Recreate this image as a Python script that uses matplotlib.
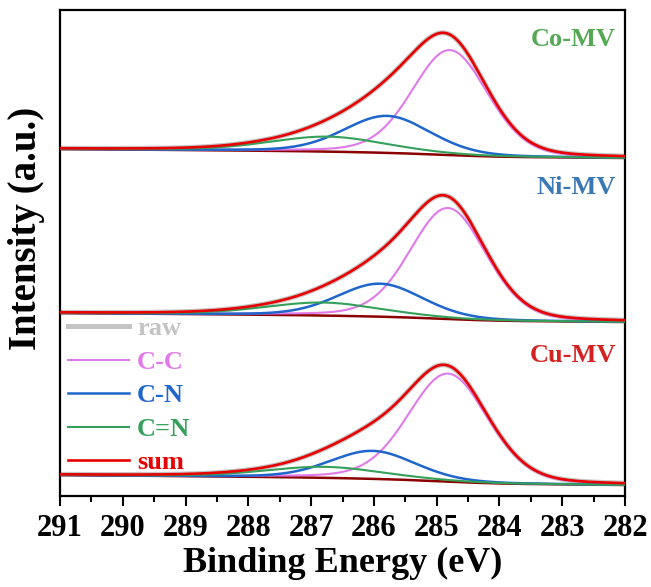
import numpy as np
import matplotlib.pyplot as plt
from matplotlib.ticker import MultipleLocator

# peak fit parameters: centre (eV), FWHM (eV), height (a.u.)
samples = ["Co-MV", "Ni-MV", "Cu-MV"]
sample_colors = ["#55a955", "#3a78b5", "#d42222"]

cc_center = [284.79, 284.82, 284.82]
cc_fwhm = [1.42, 1.43, 1.50]
cc_height = [105, 111, 108]

cn_center = [285.79, 285.90, 286.02]
cn_fwhm = [1.62, 1.60, 1.60]
cn_height = [37, 33, 28]

cdn_center = [286.73, 286.81, 286.78]
cdn_fwhm = [2.2, 2.2, 2.2]
cdn_height = [15, 13, 11]

# background level at the low-BE end and the step up to the high-BE end
bg_low = [338, 174, 11]
bg_step = [9, 9, 10]

x_ticks = [291, 290, 289, 288, 287, 286, 285, 284, 283, 282]

c_raw = "#c4c4c4"
c_cc = "#e07ae8"
c_cn = "#1f66cc"
c_cdn = "#35a05a"
c_sum = "#e80000"
c_bg = "#8b0000"


def pvoigt(e, c, w, h, lfrac):
    g = np.exp(-4 * np.log(2) * (e - c) ** 2 / w ** 2)
    l = 1 / (1 + 4 * (e - c) ** 2 / w ** 2)
    return h * ((1 - lfrac) * g + lfrac * l)


plt.rcParams['font.family'] = ['Liberation Serif', 'DejaVu Serif']
plt.rcParams['font.weight'] = 'bold'

fig = plt.figure(figsize=(6.51, 5.87), dpi=100)
ax = fig.add_axes([60 / 651, 1 - 496 / 587, 565 / 651, 486 / 587])

e = np.linspace(282, 291, 900)
for i in range(3):
    p1 = pvoigt(e, cc_center[i], cc_fwhm[i], cc_height[i], 0.2)
    p2 = pvoigt(e, cn_center[i], cn_fwhm[i], cn_height[i], 0.2)
    p3 = pvoigt(e, cdn_center[i], cdn_fwhm[i], cdn_height[i], 0.3)
    tot = p1 + p2 + p3
    # Shirley-like background mixed with a linear slope
    cum = np.cumsum(tot)
    cum = cum / cum[-1]
    frac = 0.5 * (e - 282) / 9 + 0.5 * cum
    bg = bg_low[i] + bg_step[i] * frac

    lab = i == 2
    ax.plot(e, bg + tot, color=c_raw, lw=3.6, zorder=1, label="raw" if lab else None)
    ax.plot(e, bg, color=c_bg, lw=1.8, zorder=2)
    ax.plot(e, bg + p1, color=c_cc, lw=1.5, zorder=3, label="C-C" if lab else None)
    ax.plot(e, bg + p2, color=c_cn, lw=1.8, zorder=3, label="C-N" if lab else None)
    ax.plot(e, bg + p3, color=c_cdn, lw=1.5, zorder=3, label="C=N" if lab else None)
    ax.plot(e, bg + tot, color=c_sum, lw=1.9, zorder=4, label="sum" if lab else None)

label_y = [0.940, 0.634, 0.290]
for i in range(3):
    ax.text(0.984, label_y[i], samples[i], transform=ax.transAxes, ha="right", va="center",
            fontsize=19, fontweight="bold", color=sample_colors[i])

ax.set_xlim(291, 282)
ax.set_ylim(0, 486)
ax.set_xticks(x_ticks)
ax.xaxis.set_minor_locator(MultipleLocator(0.5))
ax.set_yticks([])
ax.tick_params(axis="x", which="major", direction="out", length=7, width=1.5, labelsize=22, pad=6)
ax.tick_params(axis="x", which="minor", direction="out", length=4, width=1.5)
for s in ax.spines.values():
    s.set_linewidth(1.6)

ax.set_xlabel("Binding Energy (eV)", fontsize=26, fontweight="bold", labelpad=3)
fig.text(27 / 651, 1 - 228 / 587, "Intensity (a.u.)", rotation=90, ha="center", va="center",
         fontsize=28, fontweight="bold")

leg = ax.legend(loc="upper left", bbox_to_anchor=(-0.004, 0.39), frameon=False, fontsize=19,
                handlelength=2.3, handletextpad=0.3, labelspacing=0.38, borderaxespad=0,
                labelcolor="linecolor")
for t in leg.get_texts():
    t.set_fontweight("bold")

fig.savefig("out.png", dpi=100)
